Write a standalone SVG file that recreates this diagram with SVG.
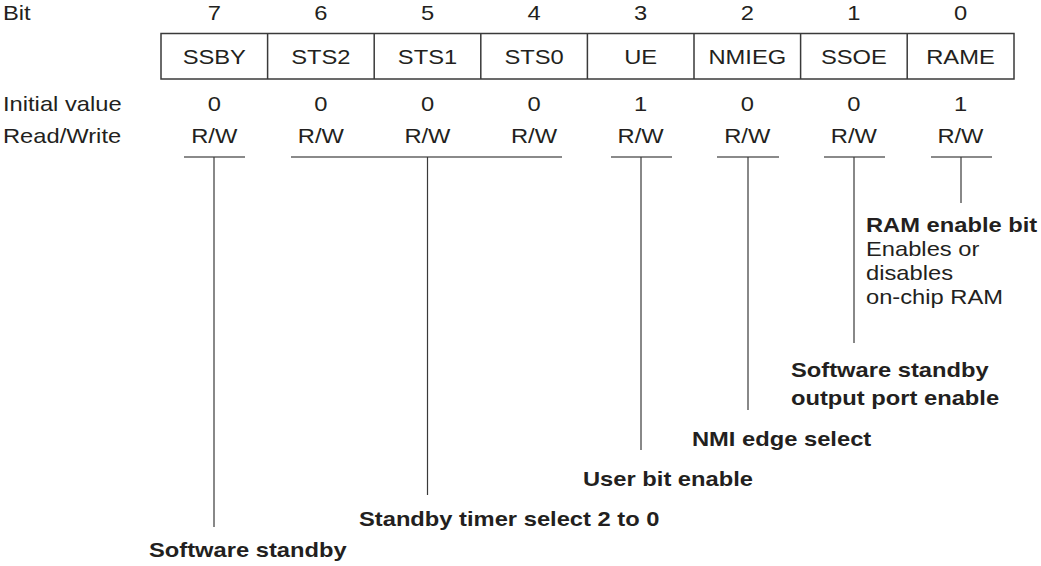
<svg xmlns="http://www.w3.org/2000/svg" width="1041" height="566" viewBox="0 0 1041 566">
<style>
text{font-family:"Liberation Sans",Arial,sans-serif;font-size:21px;fill:#231f20}
.m{text-anchor:middle;transform-box:fill-box;transform-origin:center;transform:scaleX(1.13)}
.s{transform-box:fill-box;transform-origin:left;transform:scaleX(1.13)}
.b{font-weight:bold}
.box{fill:none;stroke:#3a3a3a;stroke-width:1.5}
.ul{stroke:#8a8a8a;stroke-width:2}
.vl{stroke:#3a3a3a;stroke-width:1.2}
</style>
<rect width="1041" height="566" fill="#fff"/>
<g id="labels">
<text class="s" x="3" y="20">Bit</text>
<text class="s" x="3" y="111">Initial value</text>
<text class="s" x="3" y="143">Read/Write</text>
</g>
<g id="register">
<rect class="box" x="161" y="33.5" width="853" height="45.5"/>
<path class="box" d="M267.6 33.5V79M374.2 33.5V79M480.8 33.5V79M587.4 33.5V79M694 33.5V79M800.6 33.5V79M907.2 33.5V79"/>
</g>
<g id="bit7"><text class="m" x="214.3" y="20">7</text><text class="m" x="214.3" y="64">SSBY</text><text class="m" x="214.3" y="111">0</text><text class="m" x="214.3" y="143">R/W</text></g>
<g id="bit6"><text class="m" x="320.9" y="20">6</text><text class="m" x="320.9" y="64">STS2</text><text class="m" x="320.9" y="111">0</text><text class="m" x="320.9" y="143">R/W</text></g>
<g id="bit5"><text class="m" x="427.5" y="20">5</text><text class="m" x="427.5" y="64">STS1</text><text class="m" x="427.5" y="111">0</text><text class="m" x="427.5" y="143">R/W</text></g>
<g id="bit4"><text class="m" x="534.1" y="20">4</text><text class="m" x="534.1" y="64">STS0</text><text class="m" x="534.1" y="111">0</text><text class="m" x="534.1" y="143">R/W</text></g>
<g id="bit3"><text class="m" x="640.7" y="20">3</text><text class="m" x="640.7" y="64">UE</text><text class="m" x="640.7" y="111">1</text><text class="m" x="640.7" y="143">R/W</text></g>
<g id="bit2"><text class="m" x="747.3" y="20">2</text><text class="m" x="747.3" y="64">NMIEG</text><text class="m" x="747.3" y="111">0</text><text class="m" x="747.3" y="143">R/W</text></g>
<g id="bit1"><text class="m" x="853.9" y="20">1</text><text class="m" x="853.9" y="64">SSOE</text><text class="m" x="853.9" y="111">0</text><text class="m" x="853.9" y="143">R/W</text></g>
<g id="bit0"><text class="m" x="960.5" y="20">0</text><text class="m" x="960.5" y="64">RAME</text><text class="m" x="960.5" y="111">1</text><text class="m" x="960.5" y="143">R/W</text></g>
<g id="connectors">
<path class="ul" d="M184 157H245M291 157H562M611 157H672M717 157H779M824 157H885M931 157H992"/>
<path class="vl" d="M214 157V527M427.5 157V495M641 157V450M748 157V410M854 157V343M961 157V203"/>
</g>
<g id="desc-rame">
<text class="s b" x="866" y="232">RAM enable bit</text>
<text class="s" x="866" y="256">Enables or</text>
<text class="s" x="866" y="280">disables</text>
<text class="s" x="866" y="304">on-chip RAM</text>
</g>
<g id="desc-ssoe">
<text class="s b" x="791" y="377">Software standby</text>
<text class="s b" x="791" y="405">output port enable</text>
</g>
<g id="desc-nmieg"><text class="s b" x="692" y="446">NMI edge select</text></g>
<g id="desc-ue"><text class="s b" x="583" y="486">User bit enable</text></g>
<g id="desc-sts"><text class="s b" x="359" y="526">Standby timer select 2 to 0</text></g>
<g id="desc-ssby"><text class="s b" x="149" y="557">Software standby</text></g>
</svg>
